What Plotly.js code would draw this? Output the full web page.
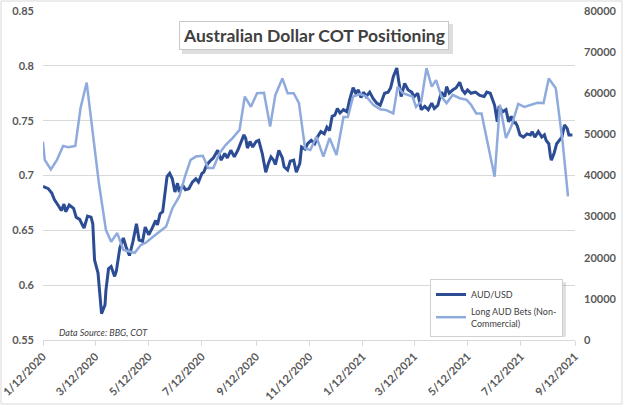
<!DOCTYPE html>
<html>
<head>
<meta charset="utf-8">
<script src="https://cdn.plot.ly/plotly-3.0.1.min.js"></script>
<style>html,body{margin:0;padding:0;background:#fff;}#chart{width:624px;height:406px;}</style>
</head>
<body>
<div id="chart"></div>
<script>
// ---- data ----
const audDates = ["2020-01-12","2020-01-18","2020-01-22","2020-01-25","2020-01-30","2020-02-02","2020-02-05","2020-02-07","2020-02-11","2020-02-16","2020-02-19","2020-02-23","2020-02-26","2020-02-28","2020-03-03","2020-03-07","2020-03-09","2020-03-11","2020-03-15","2020-03-17","2020-03-19","2020-03-23","2020-03-24","2020-03-27","2020-03-30","2020-04-03","2020-04-05","2020-04-09","2020-04-13","2020-04-16","2020-04-20","2020-04-24","2020-04-28","2020-05-01","2020-05-05","2020-05-08","2020-05-12","2020-05-16","2020-05-20","2020-05-22","2020-05-25","2020-05-28","2020-05-31","2020-06-02","2020-06-05","2020-06-08","2020-06-11","2020-06-14","2020-06-16","2020-06-20","2020-06-23","2020-06-27","2020-07-01","2020-07-05","2020-07-08","2020-07-12","2020-07-14","2020-07-17","2020-07-21","2020-07-25","2020-07-30","2020-08-03","2020-08-07","2020-08-10","2020-08-14","2020-08-18","2020-08-22","2020-08-25","2020-08-29","2020-08-31","2020-09-02","2020-09-05","2020-09-08","2020-09-12","2020-09-15","2020-09-19","2020-09-23","2020-09-26","2020-09-29","2020-10-02","2020-10-04","2020-10-08","2020-10-12","2020-10-14","2020-10-18","2020-10-21","2020-10-25","2020-10-28","2020-11-01","2020-11-03","2020-11-07","2020-11-10","2020-11-14","2020-11-18","2020-11-21","2020-11-25","2020-11-29","2020-12-02","2020-12-05","2020-12-08","2020-12-11","2020-12-14","2020-12-17","2020-12-21","2020-12-25","2020-12-28","2021-01-01","2021-01-04","2021-01-07","2021-01-10","2021-01-13","2021-01-16","2021-01-20","2021-01-24","2021-01-28","2021-02-01","2021-02-03","2021-02-06","2021-02-10","2021-02-13","2021-02-16","2021-02-20","2021-02-22","2021-02-25","2021-03-01","2021-03-05","2021-03-09","2021-03-12","2021-03-16","2021-03-20","2021-03-24","2021-03-28","2021-04-01","2021-04-04","2021-04-08","2021-04-12","2021-04-16","2021-04-18","2021-04-21","2021-04-25","2021-04-29","2021-05-03","2021-05-06","2021-05-09","2021-05-12","2021-05-16","2021-05-21","2021-05-26","2021-05-31","2021-06-03","2021-06-07","2021-06-10","2021-06-12","2021-06-15","2021-06-17","2021-06-21","2021-06-25","2021-06-28","2021-07-01","2021-07-04","2021-07-06","2021-07-08","2021-07-11","2021-07-15","2021-07-19","2021-07-23","2021-07-25","2021-07-28","2021-08-01","2021-08-05","2021-08-08","2021-08-10","2021-08-13","2021-08-15","2021-08-16","2021-08-19","2021-08-22","2021-08-25","2021-08-28","2021-08-31","2021-09-03","2021-09-05","2021-09-09"];
const audValues = [0.690,0.688,0.684,0.678,0.672,0.668,0.674,0.667,0.673,0.670,0.662,0.660,0.655,0.652,0.663,0.662,0.656,0.623,0.611,0.593,0.574,0.582,0.595,0.615,0.617,0.608,0.613,0.634,0.643,0.635,0.627,0.640,0.656,0.641,0.640,0.653,0.646,0.652,0.659,0.655,0.665,0.667,0.685,0.699,0.702,0.697,0.685,0.693,0.685,0.691,0.687,0.688,0.694,0.697,0.694,0.702,0.703,0.709,0.713,0.716,0.723,0.714,0.720,0.716,0.723,0.717,0.723,0.729,0.737,0.734,0.725,0.731,0.726,0.731,0.732,0.720,0.703,0.711,0.717,0.714,0.710,0.723,0.716,0.708,0.705,0.713,0.714,0.703,0.711,0.726,0.724,0.729,0.732,0.729,0.735,0.740,0.738,0.744,0.741,0.754,0.755,0.761,0.757,0.760,0.758,0.769,0.780,0.775,0.778,0.771,0.776,0.772,0.776,0.770,0.766,0.764,0.769,0.775,0.776,0.780,0.790,0.798,0.787,0.772,0.784,0.778,0.776,0.772,0.775,0.760,0.763,0.760,0.766,0.761,0.764,0.776,0.772,0.781,0.775,0.778,0.780,0.785,0.778,0.775,0.778,0.775,0.776,0.773,0.772,0.776,0.775,0.769,0.764,0.749,0.763,0.758,0.760,0.749,0.754,0.748,0.748,0.745,0.737,0.735,0.738,0.737,0.740,0.735,0.740,0.735,0.737,0.732,0.729,0.717,0.714,0.720,0.729,0.732,0.735,0.746,0.743,0.737,0.737];

const cotDates = ["2020-01-12","2020-01-14","2020-01-21","2020-01-28","2020-02-04","2020-02-10","2020-02-18","2020-02-24","2020-03-02","2020-03-09","2020-03-16","2020-03-24","2020-03-30","2020-04-06","2020-04-13","2020-04-20","2020-04-26","2020-05-03","2020-05-09","2020-05-17","2020-05-24","2020-06-01","2020-06-08","2020-06-16","2020-06-23","2020-06-29","2020-07-05","2020-07-13","2020-07-19","2020-07-25","2020-08-01","2020-08-08","2020-08-16","2020-08-24","2020-08-30","2020-09-06","2020-09-13","2020-09-21","2020-09-28","2020-10-04","2020-10-12","2020-10-18","2020-10-25","2020-10-31","2020-11-07","2020-11-13","2020-11-20","2020-11-28","2020-12-05","2020-12-13","2020-12-21","2020-12-26","2021-01-01","2021-01-09","2021-01-16","2021-01-24","2021-02-01","2021-02-08","2021-02-16","2021-02-21","2021-02-27","2021-03-05","2021-03-10","2021-03-14","2021-03-20","2021-03-26","2021-04-01","2021-04-06","2021-04-12","2021-04-18","2021-04-25","2021-05-03","2021-05-11","2021-05-16","2021-05-22","2021-05-28","2021-06-04","2021-06-12","2021-06-18","2021-06-25","2021-07-01","2021-07-09","2021-07-16","2021-07-24","2021-07-31","2021-08-07","2021-08-13","2021-08-21","2021-08-29","2021-09-04"];
const cotValues = [48200,43800,41500,43800,47200,46900,47200,56400,62600,49900,38100,26800,23900,26000,21900,21500,21200,23100,23700,25100,26300,27600,32000,34900,40100,43800,44600,44800,41800,41800,45400,47400,49100,51100,59200,56700,60000,60100,51900,59600,63600,60000,60000,57600,46600,46200,49400,44600,49100,45000,54200,54200,59200,59800,59200,57200,56100,55900,55100,61600,60000,59600,59200,56700,58000,66100,61600,63200,59200,57600,59600,58800,58400,57200,55100,55100,47800,39700,57200,49100,51900,57400,56700,57200,57700,57600,63600,61200,47800,34900];

const xTickVals = ["2020-01-12","2020-03-12","2020-05-12","2020-07-12","2020-09-12","2020-11-12","2021-01-12","2021-03-12","2021-05-12","2021-07-12","2021-09-12"];
const xTickText = ["1/12/2020","3/12/2020","5/12/2020","7/12/2020","9/12/2020","11/12/2020","1/12/2021","3/12/2021","5/12/2021","7/12/2021","9/12/2021"];

const seriesNames = ["AUD/USD", "Long AUD Bets (Non-<br>Commercial)"];
const titleText = "Australian Dollar COT Positioning";
const sourceText = "Data Source: BBG, COT";

// ---- layout helpers (pixel -> paper) ----
const M = {l:43, r:49, t:11, b:66};
const W = 624, H = 406;
const PW = W - M.l - M.r, PH = H - M.t - M.b;
const px = v => (v - M.l) / PW;
const py = v => (H - M.b - v) / PH;

const tickFont = {family:"Lato, 'Open Sans', sans-serif", size:11, color:"#595959", weight:700};

const traces = [
  {x: audDates, y: audValues, type:"scatter", mode:"lines", name: seriesNames[0],
   line:{color:"#2C4C93", width:3}, yaxis:"y"},
  {x: cotDates, y: cotValues, type:"scatter", mode:"lines", name: seriesNames[1],
   line:{color:"#8FAADC", width:2.5}, yaxis:"y2"}
];

const layout = {
  width: W, height: H,
  margin: M,
  paper_bgcolor:"#ffffff", plot_bgcolor:"#ffffff",
  font:{family:"Lato, 'Open Sans', sans-serif", color:"#404040"},
  showlegend: true,
  legend:{x:px(430), y:py(279), xanchor:"left", yanchor:"top",
          bgcolor:"#ffffff", bordercolor:"#D0D0D0", borderwidth:1,
          font:{size:9, color:"#404040"}, tracegroupgap:2},
  xaxis:{type:"date", range:["2020-01-12","2021-09-12"],
         tickvals:xTickVals, ticktext:xTickText, tickangle:-45,
         tickfont:tickFont, showgrid:false, zeroline:false,
         showline:true, linecolor:"#D9D9D9", linewidth:1,
         ticks:"outside", ticklen:5, tickcolor:"#D9D9D9"},
  yaxis:{range:[0.55,0.85], dtick:0.05, tick0:0.55, tickfont:tickFont,
         showgrid:true, gridcolor:"#D9D9D9", gridwidth:1, zeroline:false,
         ticks:"", ticklabelstandoff:8},
  yaxis2:{range:[0,80000], dtick:10000, tickformat:"d", overlaying:"y", side:"right",
          tickfont:tickFont, showgrid:false, zeroline:false, ticks:"", ticklabelstandoff:8},
  annotations:[
    {text:titleText, xref:"paper", yref:"paper", x:px(314), y:py(36),
     xanchor:"center", yanchor:"middle", showarrow:false,
     font:{size:17.5, color:"#404040", weight:700},
     bgcolor:"#ffffff", bordercolor:"#C8C8C8", borderwidth:1, borderpad:3},
    {text:sourceText, xref:"paper", yref:"paper", x:px(57), y:py(332),
     xanchor:"left", yanchor:"middle", showarrow:false,
     font:{size:9, color:"#404040", style:"italic"}}
  ],
  shapes:[
    {type:"rect", xref:"paper", yref:"paper", x0:px(1), x1:px(622), y0:py(404), y1:py(1),
     line:{color:"#D9D9D9", width:1}, fillcolor:"rgba(0,0,0,0)", layer:"below"},
    {type:"rect", xref:"paper", yref:"paper", x0:px(182), x1:px(453), y0:py(54), y1:py(24),
     line:{width:0}, fillcolor:"rgba(0,0,0,0.13)", layer:"above"},
    {type:"rect", xref:"paper", yref:"paper", x0:px(433), x1:px(566), y0:py(337), y1:py(282),
     line:{width:0}, fillcolor:"rgba(0,0,0,0.12)", layer:"above"}
  ]
};

Plotly.newPlot("chart", traces, layout, {displayModeBar:false, staticPlot:true});
</script>
</body>
</html>
